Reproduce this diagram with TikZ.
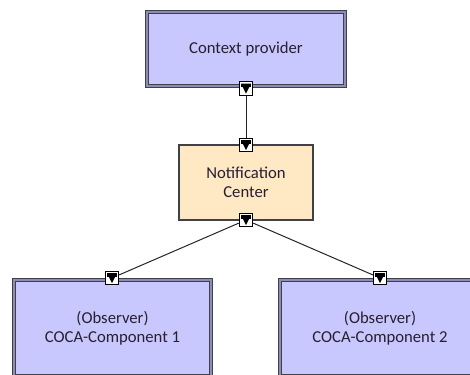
\documentclass[tikz,border=0pt]{standalone}
\usepackage{fontspec}
\setmainfont{Carlito}
\definecolor{boxblue}{RGB}{200,200,255}
\definecolor{boxpeach}{RGB}{255,232,196}
\definecolor{edgedark}{RGB}{64,64,72}
\definecolor{edgemid}{RGB}{140,140,180}
\definecolor{txt}{RGB}{40,30,50}
\tikzset{
  compbox/.style={rectangle, draw=edgedark, line width=0.7pt, double=edgemid, double distance=1.1pt,
    fill=boxblue, text=txt, align=center, font=\fontsize{12.5}{14.5}\selectfont, inner sep=0pt},
  centerbox/.style={rectangle, draw=edgedark, line width=1.1pt, fill=boxpeach, text=txt,
    align=center, font=\fontsize{12.5}{14.5}\selectfont, inner sep=0pt},
  portbox/.style={rectangle, draw=black, line width=0.8pt, fill=white, minimum size=10pt, inner sep=0pt,
    path picture={
      \fill[black] ([xshift=1.3pt,yshift=-1.3pt]path picture bounding box.north west) --
                   ([xshift=-1.3pt,yshift=-1.3pt]path picture bounding box.north east) --
                   ([yshift=1.1pt]path picture bounding box.south) -- cycle;
      \fill[black] ([xshift=1.3pt,yshift=-1.3pt]path picture bounding box.north west) rectangle
                   ([xshift=-1.3pt,yshift=-4.2pt]path picture bounding box.north east);
    }},
  link/.style={draw=black!85, line width=0.75pt}
}
\begin{document}
\begin{tikzpicture}[x=0.75pt,y=-0.75pt]
\useasboundingbox (0,0) rectangle (470,374);
\clip (0,0) rectangle (470,374);
\fill[white] (0,0) rectangle (470,374);
% boxes
\node[compbox, minimum width=148.5pt, minimum height=55.5pt] (ctx) at (246,49) {Context provider};
\node[centerbox, minimum width=100.5pt, minimum height=56.25pt] (nc) at (246,182.5) {Notification\\Center};
\node[compbox, minimum width=147.75pt, minimum height=72pt] (c1) at (112.5,328) {(Observer)\\COCA-Component 1};
\node[compbox, minimum width=150pt, minimum height=72pt] (c2) at (380,328) {(Observer)\\COCA-Component 2};
% ports
\node[portbox] (p1) at (246,88.5) {};
\node[portbox] (p2) at (246,145) {};
\node[portbox] (p3) at (246,220) {};
\node[portbox] (p4) at (112,278) {};
\node[portbox] (p5) at (380,278) {};
% connectors
\draw[link] (p1) -- (p2);
\draw[link] (p3) -- (p4);
\draw[link] (p3) -- (p5);
\end{tikzpicture}
\end{document}
